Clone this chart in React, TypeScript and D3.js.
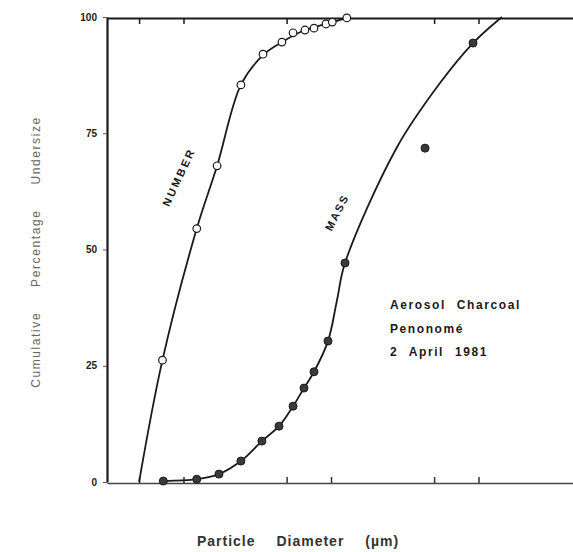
import { useEffect, useRef } from 'react';
import * as d3 from 'd3';

// axis ticks
const yTicks = [0, 25, 50, 75, 100];
const xTicks = [0.05, 0.1, 0.5, 1, 5, 10];

// NUMBER distribution: measured points (open circles)
const numberDiameter = [0.072, 0.123, 0.169, 0.245, 0.346, 0.465, 0.553, 0.666, 0.767, 0.925, 1.02, 1.28];
const numberPercent = [26.2, 54.5, 68, 85.4, 92, 94.6, 96.6, 97.2, 97.6, 98.5, 98.9, 99.8];
// NUMBER hand drawn curve
const numberFitDiameter = [0.05, 0.072, 0.123, 0.169, 0.245, 0.346, 0.465, 0.666, 0.925, 1.28];
const numberFitPercent = [0, 26.2, 54.5, 68, 85.4, 91.8, 94.6, 97.2, 98.5, 99.8];

// MASS distribution: measured points (filled circles)
const massDiameter = [0.073, 0.123, 0.174, 0.245, 0.34, 0.444, 0.553, 0.656, 0.767, 0.954, 1.244, 4.34, 9.18];
const massPercent = [0.2, 0.6, 1.7, 4.5, 8.8, 12, 16.3, 20.2, 23.7, 30.3, 47.1, 71.8, 94.4];
// MASS hand drawn curve
const massFitDiameter = [0.073, 0.123, 0.174, 0.245, 0.34, 0.444, 0.553, 0.656, 0.767, 0.954, 1.098, 1.244, 2.8, 5.48, 9.18, 14.4];
const massFitPercent = [0.2, 0.6, 1.7, 4.5, 8.8, 12, 16.3, 20.2, 23.7, 30.3, 39.1, 47.1, 72, 85.8, 94.4, 100];

const annotationLines = ['Aerosol Charcoal', 'Penonomé', '2 April 1981'];

type Pt = { d: number; p: number };
const zipPts = (ds: number[], ps: number[]): Pt[] => ds.map((d, i) => ({ d, p: ps[i] }));

const Chart = () => {
  const ref = useRef<SVGSVGElement | null>(null);

  useEffect(() => {
    if (!ref.current) return;
    const svg = d3.select(ref.current);
    svg.selectAll('*').remove();

    const width = 573;
    const height = 552;
    const margin = { top: 17, right: 0, bottom: 70, left: 107 };
    const innerHeight = height - margin.top - margin.bottom;

    const x = d3.scaleLog().domain([0.0303, 43.7]).range([margin.left, width - margin.right]);
    const y = d3.scaleLinear().domain([0, 100]).range([margin.top + innerHeight, margin.top]);

    const ink = '#1a1a1a';

    // top frame line with inward ticks
    const top = svg.append('g').attr('transform', `translate(0, ${y(100) + 1})`);
    top.call(d3.axisTop(x).tickValues(xTicks).tickSize(-6).tickSizeOuter(0).tickFormat(() => ''));
    top.select('.domain').attr('stroke', ink).attr('stroke-width', 1.8);
    top.selectAll('.tick line').attr('stroke', ink).attr('stroke-width', 1.5);

    // bottom axis with inward ticks, no labels
    const bottom = svg.append('g').attr('transform', `translate(0, ${y(0) + 1})`);
    bottom.call(d3.axisBottom(x).tickValues(xTicks).tickSize(-6).tickSizeOuter(0).tickFormat(() => ''));
    bottom.select('.domain').attr('stroke', '#444').attr('stroke-width', 1.6);
    bottom.selectAll('.tick line').attr('stroke', '#333').attr('stroke-width', 1.5);

    // left axis
    const left = svg.append('g').attr('transform', `translate(${margin.left}, 0)`);
    left.call(d3.axisLeft(y).tickValues(yTicks).tickSize(4).tickPadding(6).tickSizeOuter(0));
    left.select('.domain').attr('stroke', ink).attr('stroke-width', 2.2);
    left.selectAll('.tick line').attr('stroke', '#555').attr('stroke-width', 1);
    left
      .selectAll('.tick text')
      .attr('fill', '#222')
      .style('font-family', '"Liberation Sans", Arial, sans-serif')
      .style('font-weight', 'bold')
      .style('font-size', '10px');

    const line = d3
      .line<Pt>()
      .x((d) => x(d.d))
      .y((d) => y(d.p))
      .curve(d3.curveCatmullRom.alpha(0.5));

    // fitted curves
    svg
      .append('path')
      .datum(zipPts(numberFitDiameter, numberFitPercent))
      .attr('fill', 'none')
      .attr('stroke', ink)
      .attr('stroke-width', 1.8)
      .attr('d', line);

    svg
      .append('path')
      .datum(zipPts(massFitDiameter, massFitPercent))
      .attr('fill', 'none')
      .attr('stroke', ink)
      .attr('stroke-width', 1.8)
      .attr('d', line);

    // measured points
    svg
      .selectAll('.num')
      .data(zipPts(numberDiameter, numberPercent))
      .enter()
      .append('circle')
      .attr('class', 'num')
      .attr('cx', (d) => x(d.d))
      .attr('cy', (d) => y(d.p))
      .attr('r', 3.8)
      .attr('fill', 'white')
      .attr('stroke', ink)
      .attr('stroke-width', 1.2);

    svg
      .selectAll('.mass')
      .data(zipPts(massDiameter, massPercent))
      .enter()
      .append('circle')
      .attr('class', 'mass')
      .attr('cx', (d) => x(d.d))
      .attr('cy', (d) => y(d.p))
      .attr('r', 4)
      .attr('fill', '#3a3a3a')
      .attr('stroke', ink)
      .attr('stroke-width', 1);

    // curve labels
    const curveLabel = (text: string, d: number, p: number, angle: number, spacing: number) =>
      svg
        .append('text')
        .attr('transform', `translate(${x(d)}, ${y(p)}) rotate(${angle})`)
        .attr('text-anchor', 'middle')
        .attr('dy', '0.35em')
        .attr('fill', ink)
        .style('font-family', '"Liberation Sans", Arial, sans-serif')
        .style('font-weight', 'bold')
        .style('font-size', '11px')
        .style('letter-spacing', `${spacing}px`)
        .text(text);

    curveLabel('NUMBER', 0.093, 65.6, -65, 2.5);
    curveLabel('MASS', 1.098, 58, -63, 2);

    // annotation block
    const note = svg
      .append('text')
      .attr('fill', ink)
      .style('font-family', '"Liberation Sans", Arial, sans-serif')
      .style('font-weight', 'bold')
      .style('font-size', '12px')
      .style('letter-spacing', '1.6px')
      .style('word-spacing', '6px');
    note
      .selectAll('tspan')
      .data(annotationLines)
      .enter()
      .append('tspan')
      .attr('x', x(2.51))
      .attr('y', (_, i) => y(37.2) + i * 23.5)
      .text((d) => d);

    // axis titles
    svg
      .append('text')
      .attr('x', 298)
      .attr('y', 546)
      .attr('text-anchor', 'middle')
      .attr('fill', '#333')
      .style('font-family', '"Liberation Sans", Arial, sans-serif')
      .style('font-weight', 'bold')
      .style('font-size', '14px')
      .style('letter-spacing', '1px')
      .style('word-spacing', '16px')
      .text('Particle Diameter (µm)');

    svg
      .append('text')
      .attr('transform', 'translate(40, 252) rotate(-90)')
      .attr('text-anchor', 'middle')
      .attr('fill', '#666')
      .style('font-family', '"Liberation Sans", Arial, sans-serif')
      .style('font-size', '12px')
      .style('letter-spacing', '1.6px')
      .style('word-spacing', '20px')
      .text('Cumulative Percentage Undersize');
  }, []);

  return (
    <svg
      ref={ref}
      width={573}
      height={552}
      style={{ position: 'absolute', left: 0, top: 0, background: 'white' }}
    />
  );
};

export default function App() {
  return <Chart />;
}
